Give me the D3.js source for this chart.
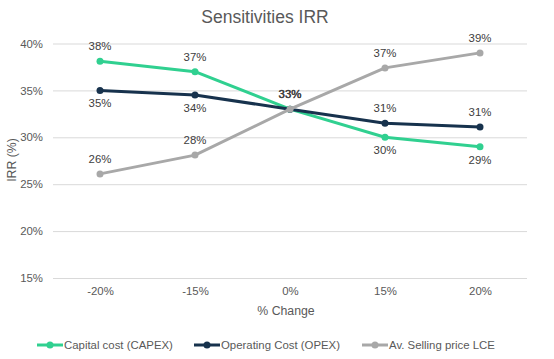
<!DOCTYPE html>
<html><head><meta charset="utf-8">
<script src="https://cdn.jsdelivr.net/npm/d3@7"></script>
<style>body{margin:0;background:#fff}svg{display:block}text{font-family:"Liberation Sans",Arial,sans-serif}</style>
</head><body><svg id="c" width="554" height="359"></svg>
<script>
const categories = ["-20%","-15%","0%","15%","20%"];
const capex = [38.1, 37.0, 33.0, 30.0, 29.0];
const opex = [35.0, 34.5, 33.0, 31.5, 31.1];
const lce = [26.1, 28.1, 33.0, 37.4, 39.0];
const capexLabels = ["38%","37%","33%","30%","29%"];
const opexLabels = ["35%","34%","33%","31%","31%"];
const lceLabels = ["26%","28%","33%","37%","39%"];
const yTicks = [15,20,25,30,35,40];
const seriesNames = ["Capital cost (CAPEX)","Operating Cost (OPEX)","Av. Selling price LCE"];

const series = [
  {name: seriesNames[0], values: capex, labels: capexLabels, color: "#30d090", pos: ["a","a","n","b","b"]},
  {name: seriesNames[1], values: opex, labels: opexLabels, color: "#17324d", pos: ["b","b","n","a","a"]},
  {name: seriesNames[2], values: lce, labels: lceLabels, color: "#a8a8a8", pos: ["a","a","a","a","a"]}
];

const svg = d3.select("#c");
const x = d3.scalePoint().domain(categories).range([100, 480]);
const y = d3.scaleLinear().domain([15, 40]).range([278, 43.5]);
const textCol = "#595959";
const FF = '"Liberation Sans", Arial, sans-serif';
const FS = 11.4;

const yAxis = d3.axisLeft(y).tickValues(yTicks).tickFormat(d => d + "%").tickSize(-(527 - 53)).tickPadding(10);
const gy = svg.append("g").attr("transform", "translate(53,0)").call(yAxis).attr("font-family", FF);
gy.select(".domain").remove();
gy.selectAll(".tick line").attr("stroke", "#d9d9d9").attr("stroke-width", 1);
gy.selectAll(".tick text").attr("fill", textCol).attr("font-size", FS).attr("x", -10);

const xAxis = d3.axisBottom(x).tickSize(0).tickPadding(9);
const gx = svg.append("g").attr("transform", "translate(0,278)").call(xAxis).attr("font-family", FF);
gx.select(".domain").remove();
gx.selectAll(".tick text").attr("fill", textCol).attr("font-size", FS);

svg.append("text").attr("x", 265).attr("y", 23).attr("text-anchor", "middle")
  .attr("font-size", 17.5).attr("fill", textCol).text("Sensitivities IRR");
svg.append("text").attr("x", 286).attr("y", 315).attr("text-anchor", "middle")
  .attr("font-size", 12.3).attr("fill", textCol).text("% Change");
svg.append("text").attr("transform", "translate(15.5,160) rotate(-90)").attr("text-anchor", "middle")
  .attr("font-size", 12.3).attr("fill", textCol).text("IRR (%)");

const line = d3.line().x((d, i) => x(categories[i])).y(d => y(d));
series.forEach(s => {
  svg.append("path").datum(s.values).attr("d", line).attr("fill", "none")
    .attr("stroke", s.color).attr("stroke-width", 3).attr("stroke-linejoin", "round");
  svg.selectAll(null).data(s.values).enter().append("circle")
    .attr("cx", (d, i) => x(categories[i])).attr("cy", d => y(d)).attr("r", 3.5).attr("fill", s.color);
});
series.forEach(s => {
  const pts = s.values.map((v, i) => ({v, i, pos: s.pos[i], label: s.labels[i]})).filter(p => p.pos !== "n");
  svg.selectAll(null).data(pts).enter().append("text")
    .attr("x", p => x(categories[p.i]))
    .attr("y", p => p.pos === "a" ? y(p.v) - 11 : y(p.v) + 17)
    .attr("text-anchor", "middle").attr("font-size", FS).attr("fill", "#404040")
    .text(p => p.label);
});
// overlapping labels at the crossing point look bolder
svg.append("text").attr("x", x(categories[2])).attr("y", y(capex[2]) - 11)
  .attr("text-anchor", "middle").attr("font-size", FS).attr("fill", "#404040")
  .attr("stroke", "#404040").attr("stroke-width", 0.3).text(capexLabels[2]);

const legX = [37, 194, 362];
series.forEach((s, i) => {
  const g = svg.append("g").attr("transform", `translate(${legX[i]},345)`);
  g.append("line").attr("x1", 0).attr("x2", 26).attr("y1", 0).attr("y2", 0).attr("stroke", s.color).attr("stroke-width", 3);
  g.append("circle").attr("cx", 13).attr("cy", 0).attr("r", 3.5).attr("fill", s.color);
  g.append("text").attr("x", 27).attr("y", 4.2).attr("font-size", FS).attr("fill", textCol).text(s.name);
});
</script></body></html>
